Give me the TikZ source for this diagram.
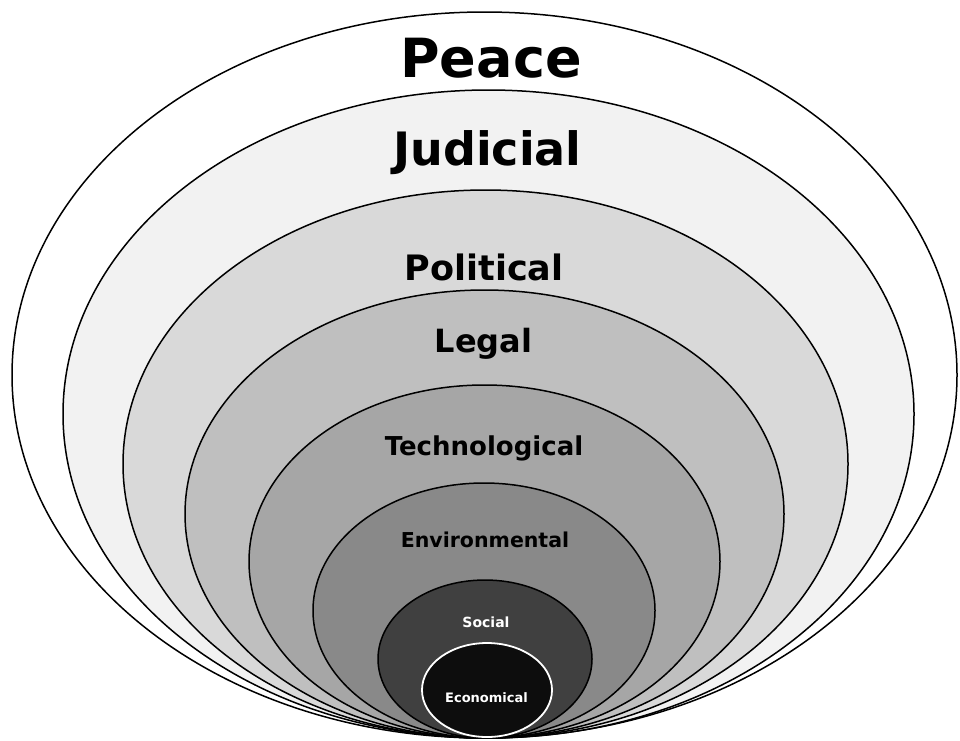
\documentclass[tikz,border=0pt]{standalone}
\usepackage{fontspec}
\setmainfont{DejaVu Sans}
\definecolor{cJud}{HTML}{F2F2F2}
\definecolor{cPol}{HTML}{D9D9D9}
\definecolor{cLeg}{HTML}{BFBFBF}
\definecolor{cTec}{HTML}{A6A6A6}
\definecolor{cEnv}{HTML}{898989}
\definecolor{cSoc}{HTML}{404040}
\definecolor{cEco}{HTML}{0D0D0D}
\tikzset{
  ring/.style={draw=black, line width=1.5pt},
  lab/.style={anchor=base, inner sep=0pt, font=\bfseries},
}
\begin{document}
\begin{tikzpicture}[x=1pt,y=-1pt]
\useasboundingbox[fill=white] (0,0) rectangle (960,740);
\path[ring, fill=white] (484.5,375) ellipse [x radius=472.5, y radius=363];
\path[ring, fill=cJud] (488.5,414) ellipse [x radius=425.5, y radius=324];
\path[ring, fill=cPol] (485.5,464) ellipse [x radius=362.5, y radius=274];
\path[ring, fill=cLeg] (484.5,514) ellipse [x radius=299.5, y radius=224];
\path[ring, fill=cTec] (484.5,561.5) ellipse [x radius=235.5, y radius=176.5];
\path[ring, fill=cEnv] (484,610.5) ellipse [x radius=171, y radius=127.5];
\path[ring, fill=cSoc] (485,659) ellipse [x radius=107, y radius=79];
\path[draw=white, line width=1.8pt, fill=cEco] (487,690) ellipse [x radius=65, y radius=47];
\node[lab, font=\bfseries\fontsize{54}{60}\selectfont] (peace) at (491,77) {Peace};
\node[lab, font=\bfseries\fontsize{46}{52}\selectfont] (judicial) at (487.5,165) {Judicial};
\node[lab, font=\bfseries\fontsize{35}{40}\selectfont] (political) at (484,280) {Political};
\node[lab, font=\bfseries\fontsize{32}{38}\selectfont] (legal) at (483.5,352) {Legal};
\node[lab, font=\bfseries\fontsize{26}{30}\selectfont] (tech) at (484,455) {Technological};
\node[lab, font=\bfseries\fontsize{20.5}{24}\selectfont] (env) at (485,547) {Environmental};
\node[lab, text=white, font=\bfseries\fontsize{14}{17}\selectfont] (social) at (486,627) {Social};
\node[lab, text=white, font=\bfseries\fontsize{13}{16}\selectfont] (econ) at (486.5,702) {Economical};
\end{tikzpicture}
\end{document}
